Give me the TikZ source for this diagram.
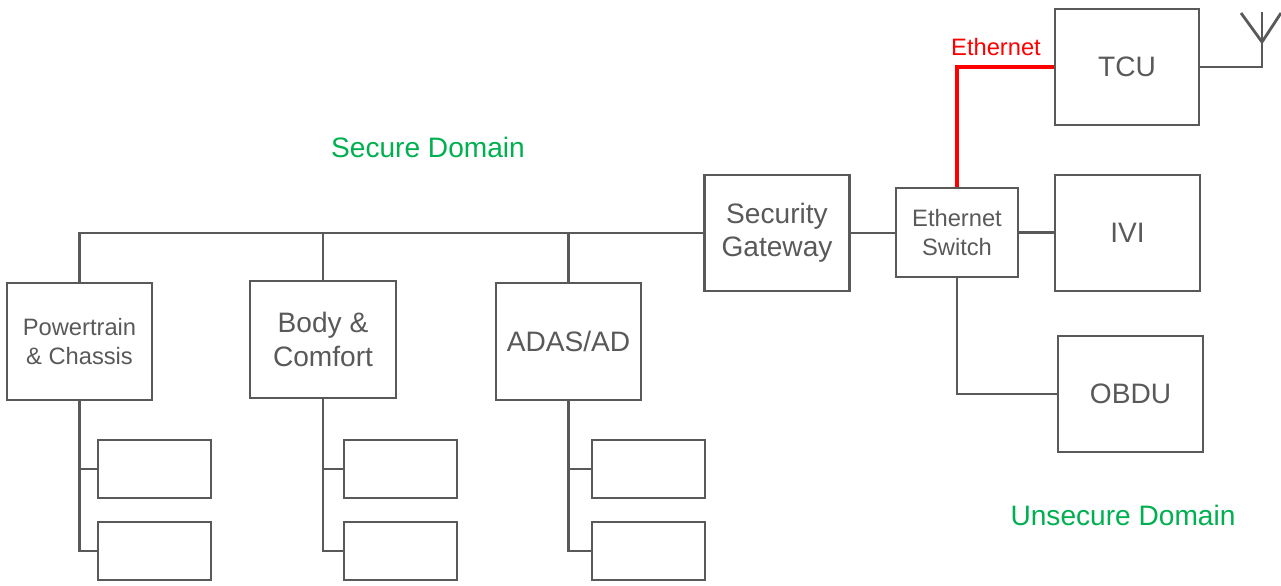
\documentclass[tikz,border=0pt]{standalone}
\usepackage{fontspec}
\setmainfont{Liberation Sans}
\usetikzlibrary{graphs}
\definecolor{linegray}{HTML}{595959}
\definecolor{domaingreen}{HTML}{00B050}
\definecolor{ethred}{HTML}{FF0000}

\begin{document}
\begin{tikzpicture}[x=0.02cm,y=-0.02cm,line width=1.6pt,color=linegray]
\useasboundingbox (0,0) rectangle (1281,585);
\begin{scope}[nodes={draw,line width=1.6pt,align=center,inner sep=0pt,font=\fontsize{16}{19}\selectfont}] % all boxes
\node [minimum width=2.9cm,minimum height=2.34cm,font=\fontsize{13.5}{17}\selectfont] (pt) at (79.5,341.5) {Powertrain\\\& Chassis};
\node [minimum width=2.92cm,minimum height=2.34cm] (bc) at (323,339.5) {Body \&\\Comfort};
\node [minimum width=2.9cm,minimum height=2.34cm] (adas) at (568.5,341.5) {ADAS/AD};
\node [minimum width=2.26cm,minimum height=1.16cm] (pt1) at (154.5,469) {};
\node [minimum width=2.26cm,minimum height=1.16cm] (pt2) at (154.5,551) {};
\node [minimum width=2.26cm,minimum height=1.16cm] (bc1) at (400.5,469) {};
\node [minimum width=2.26cm,minimum height=1.16cm] (bc2) at (400.5,551) {};
\node [minimum width=2.26cm,minimum height=1.16cm] (adas1) at (648.5,469) {};
\node [minimum width=2.26cm,minimum height=1.16cm] (adas2) at (648.5,551) {};
\node [minimum width=2.9cm,minimum height=2.32cm] (sg) at (777,233) {Security\\Gateway};
\node [minimum width=2.44cm,minimum height=1.78cm,font=\fontsize{13.5}{17}\selectfont] (sw) at (957,232.5) {Ethernet\\Switch};
\node [minimum width=2.88cm,minimum height=2.32cm] (tcu) at (1127,67) {TCU};
\node [minimum width=2.9cm,minimum height=2.32cm] (ivi) at (1127.5,233) {IVI};
\node [minimum width=2.9cm,minimum height=2.32cm] (obdu) at (1130.5,394) {OBDU};
\end{scope}
\node [text=domaingreen,font=\fontsize{16}{19}\selectfont] (secure) at (428,147) {Secure Domain};
\node [text=domaingreen,font=\fontsize{16}{19}\selectfont] (unsecure) at (1123,515) {Unsecure Domain};
\node [text=ethred,font=\fontsize{13.5}{17}\selectfont] (ethlabel) at (996,47) {Ethernet};
% secure side bus
\draw (pt.north) |- (sg.west);
\draw (bc.north) -- (bc.north |- sg.west);
\draw (adas.north) -- (adas.north |- sg.west);
\draw (pt.south) |- (pt2.west);
\draw (pt.south |- pt1.west) -- (pt1.west);
\draw (bc.south) |- (bc2.west);
\draw (bc.south |- bc1.west) -- (bc1.west);
\draw (adas.south) |- (adas2.west);
\draw (adas.south |- adas1.west) -- (adas1.west);
% unsecure side
\draw (sg.east) -- (sg.east -| sw.west);
\draw (sw.east) -- (sw.east -| ivi.west);
\draw (sw.south) |- (obdu.west);
\draw [ethred,line width=2.8pt] (sw.north) |- (tcu.west);
% antenna
\coordinate (ant) at (1262,12);
\draw (tcu.east) -| (ant);
\draw (1241,13) -- (1262,42) -- (1281,13);
\end{tikzpicture}
\end{document}
